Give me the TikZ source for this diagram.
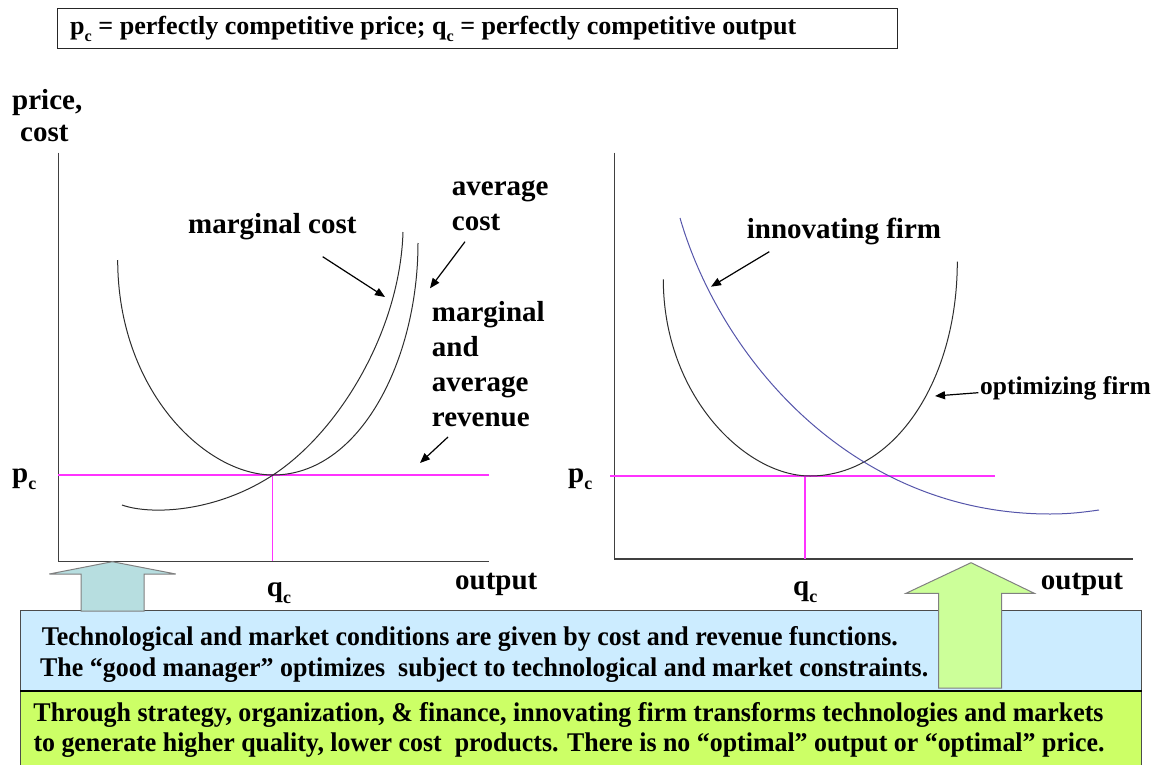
\documentclass[tikz,border=0pt]{standalone}
\usepackage{fontspec}
\setmainfont{Liberation Serif}
\usetikzlibrary{arrows.meta}
\definecolor{pinkline}{RGB}{255,51,255}
\definecolor{curvegray}{RGB}{45,45,45}
\definecolor{innovblue}{RGB}{85,85,170}
\definecolor{boxblue}{RGB}{204,236,255}
\definecolor{boxgreen}{RGB}{204,255,102}
\definecolor{arrowteal}{RGB}{183,222,224}
\definecolor{arrowgreen}{RGB}{204,255,153}
\newcommand\lowc{\raisebox{-0.25em}{\scalebox{0.62}{c}}}
\newcommand\fz[1]{\fontsize{#1}{#1}\selectfont\bfseries}
\begin{document}
\begin{tikzpicture}[x=1pt,y=-1pt,
  lbl/.style={anchor=base west, inner sep=0pt, font=\fz{29}},
  smalllbl/.style={anchor=base west, inner sep=0pt, font=\fz{25.5}},
  boxtext/.style={anchor=base west, inner sep=0pt, font=\fz{27}},
  axisline/.style={draw=black!75, line width=1.5pt},
  curve/.style={draw=curvegray, line width=1pt},
  pline/.style={draw=pinkline, line width=1.4pt},
  pointer/.style={draw=black, line width=1.2pt, -{Triangle[length=10pt,width=8pt]}},
  bigarrow/.style={line width=1pt, line join=miter}
]
\useasboundingbox (0,0) rectangle (1156,765);

% legend box
\node[draw=black!85, line width=1pt, minimum width=840pt, minimum height=40pt,
      inner sep=0pt, anchor=north west] (legendbox) at (57,8) {};
\node[anchor=base west, inner sep=0pt, font=\fz{26}] (legendtext) at (70,35)
  {\resizebox{726pt}{\height}{p\lowc{} = perfectly competitive price; q\lowc{} = perfectly competitive output}};

\node[lbl] (price) at (12,110) {price,};
\node[lbl] (costax) at (20,142) {cost};

% ---------- left graph ----------
\coordinate (LO) at (58.3,561.7);
\coordinate (LT) at (58.3,152.7);
\coordinate (LR) at (489,561.7);
\draw[axisline] (LT) -- (LO) -- (LR);

\coordinate (Lp1) at (58.3,475);
\coordinate (Lp2) at (489,475);
\coordinate (Lq1) at (272.5,475);
\coordinate (Lq2) at (272.5,561);
\draw[pline] (Lp1) -- (Lp2);
\draw[pline] (Lq1) -- (Lq2);

% average cost
\draw[curve] (117.7,260) .. controls (117.7,390) and (205,475) .. (273,475)
             .. controls (360,475) and (418,360) .. (418,243);
% marginal cost
\draw[curve] (122,505) .. controls (150,515) and (215,513) .. (273,475)
             .. controls (340,431) and (400,330) .. (403,232);

\node[lbl] (mclbl) at (188,233) {marginal cost};
\node[lbl] (aclbl1) at (451.7,195) {average};
\node[lbl] (aclbl2) at (451.7,230) {cost};
\node[lbl] (mr1) at (431.7,321.7) {marginal};
\node[lbl] (mr2) at (431.7,356.7) {and};
\node[lbl] (mr3) at (431.7,391.7) {average};
\node[lbl] (mr4) at (431.7,426.7) {revenue};

\coordinate (mcA) at (322.7,256.7);
\coordinate (mcB) at (385,297);
\coordinate (acA) at (465,241.7);
\coordinate (acB) at (430,288.3);
\coordinate (arA) at (448,437);
\coordinate (arB) at (420,463);
\draw[pointer] (mcA) -- (mcB);
\draw[pointer] (acA) -- (acB);
\draw[pointer] (arA) -- (arB);

\node[lbl] (Lpc) at (12,482) {p\lowc};
\node[lbl] (Lqc) at (266.7,596.7) {q\lowc};
\node[lbl] (Lout) at (455,589) {output};

% ---------- right graph ----------
\coordinate (RO) at (614.3,559);
\coordinate (RT) at (614.3,152.7);
\coordinate (RR) at (1133,559);
\draw[axisline] (RT) -- (RO) -- (RR);

\coordinate (Rp1) at (610,476);
\coordinate (Rp2) at (995,476);
\coordinate (Rq1) at (805,476);
\coordinate (Rq2) at (805,559);
\draw[pline] (Rp1) -- (Rp2);
\draw[pline] (Rq1) -- (Rq2);

% optimizing firm
\draw[curve] (663.3,279.3) .. controls (663.3,395) and (745,476) .. (810,476)
             .. controls (895,476) and (957.3,380) .. (957.3,261.7);
% innovating firm
\draw[draw=innovblue, line width=1pt] (680,218) .. controls (720,356) and (850,514) .. (1050,514)
             .. controls (1070,514) and (1085,512) .. (1099,510);

\node[lbl] (innlbl) at (746.7,238) {innovating firm};
\node[smalllbl] (optlbl) at (980,394.7) {optimizing firm};
\coordinate (inA) at (769.3,251.7);
\coordinate (inB) at (711,286.7);
\coordinate (opA) at (978.3,392.7);
\coordinate (opB) at (935,396);
\draw[pointer] (inA) -- (inB);
\draw[pointer] (opA) -- (opB);

\node[lbl] (Rpc) at (568,482) {p\lowc};
\node[lbl] (Rqc) at (793,595) {q\lowc};
\node[lbl] (Rout) at (1040.7,589) {output};

% ---------- bottom boxes ----------
\node[fill=boxblue, draw=black!70, line width=1pt, minimum width=1121pt, minimum height=80pt,
      inner sep=0pt, anchor=north west] (bluebox) at (20,610) {};
\node[fill=boxgreen, draw=black!70, line width=1pt, minimum width=1121pt, minimum height=80pt,
      inner sep=0pt, anchor=north west] (greenbox) at (20,690) {};

% block arrows
\draw[bigarrow, fill=arrowteal, draw=black!50]
  (112.3,561.7) -- (175.7,574) -- (144,574) -- (144,611) -- (81,611) -- (81,574) -- (49.3,574) -- cycle;
\draw[bigarrow, fill=arrowgreen, draw=black!50]
  (971,562.7) -- (1034.3,593.3) -- (1001.7,593.3) -- (1001.7,688) -- (938.7,688) -- (938.7,593.3) -- (906,593.3) -- cycle;

\draw[line width=2.2pt] (bluebox.south west) -- (bluebox.south east);

\node[boxtext] (b1) at (41.7,645)
  {\resizebox{856pt}{\height}{Technological and market conditions are given by cost and revenue functions.}};
\node[boxtext] (b2) at (40,676.7)
  {\resizebox{888pt}{\height}{The “good manager” optimizes\ \ subject to technological and market constraints.}};
\node[boxtext] (g1) at (33.3,721.7)
  {\resizebox{1070pt}{\height}{Through strategy, organization, \& finance, innovating firm transforms technologies and markets}};
\node[boxtext] (g2) at (33.3,751.7)
  {\resizebox{1071pt}{\height}{to generate higher quality, lower cost\ \ products. There is no “optimal” output or “optimal” price.}};
\end{tikzpicture}
\end{document}
